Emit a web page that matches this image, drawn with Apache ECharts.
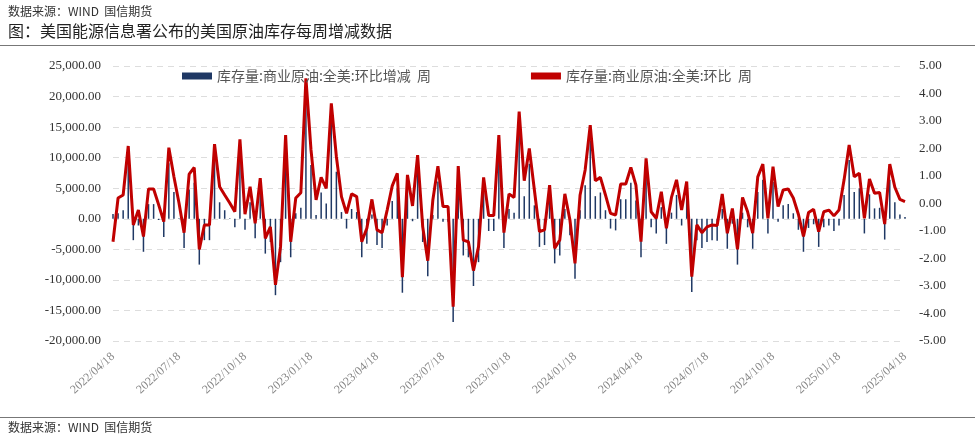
<!DOCTYPE html>
<html><head><meta charset="utf-8">
<script src="https://cdn.jsdelivr.net/npm/echarts@6/dist/echarts.min.js"></script>
<style>html,body{margin:0;padding:0;background:#fff}#c{width:975px;height:440px}</style>
</head><body><div id="c"></div>
<script>
const tickLabels = ['2022/04/18','2022/07/18','2022/10/18','2023/01/18','2023/04/18','2023/07/18','2023/10/18','2024/01/18','2024/04/18','2024/07/18','2024/10/18','2025/01/18','2025/04/18'];
const barValues = [800,900,1400,9400,-3500,-1100,-5400,2400,2400,-200,-3000,9100,4400,100,-4800,4800,5900,-7500,-3500,-3500,
9700,2700,1400,100,-1400,10500,-1800,2700,-3200,4100,-5700,-3800,-12500,-7100,11200,-6300,900,1800,20500,8800,
600,4300,2500,16400,7700,1100,-1600,1600,1100,-6300,-4100,700,-4300,-4800,-1100,2900,5000,-12100,4700,-400,
7900,-3800,-9400,600,6100,-500,-500,-16900,6100,-6000,-6300,-11000,-7100,4300,-2000,-2000,11200,-4800,1600,1000,
15000,3700,9000,2200,-4600,-4300,3000,-7300,-6000,1600,-2700,-9800,1400,5500,12800,3700,4300,1400,-1600,-1900,
3200,3200,5900,3000,-6300,7400,-1400,-2400,1900,-4100,1000,3900,-1100,3600,-12000,-3500,-4800,-3800,-3500,-3600,
1600,-4900,-800,-7500,1000,-1400,-4900,4400,6400,-2400,6000,-500,2200,2400,900,-1800,-5400,-1500,-900,-4600,
-1400,-1100,-2000,-1100,3900,9600,4400,5000,-2400,4000,1700,1800,-3400,6400,2700,700,300];
const lineValues = [-1.39,0.2,0.31,2.09,-0.78,-0.24,-1.2,0.53,0.53,-0.05,-0.66,2.03,0.97,0.02,-1.06,1.07,1.31,-1.67,-0.78,-0.78,
2.16,0.61,0.31,0.02,-0.3,2.33,-0.39,0.61,-0.72,0.92,-1.27,-0.85,-2.96,-1.57,2.49,-1.39,0.2,0.39,4.55,1.95,
0.13,0.95,0.55,3.64,1.7,0.25,-0.36,0.35,0.25,-1.39,-0.9,0.15,-0.96,-1.06,-0.24,0.64,1.1,-2.68,1.04,-0.09,
1.76,-0.84,-2.08,0.13,1.36,-0.11,-0.11,-3.75,1.36,-1.33,-1.39,-2.44,-1.57,0.95,-0.44,-0.44,2.49,-1.06,0.35,0.22,
3.34,0.83,2.0,0.49,-1.02,-0.96,0.67,-1.63,-1.33,0.35,-0.6,-2.18,0.31,1.22,2.85,0.83,0.95,0.31,-0.36,-0.42,
0.71,0.71,1.31,0.67,-1.39,1.64,-0.3,-0.54,0.43,-0.9,0.22,0.86,-0.24,0.8,-2.66,-0.78,-1.06,-0.85,-0.78,-0.8,
0.35,-1.08,-0.18,-1.67,0.22,-0.3,-1.08,0.97,1.43,-0.54,1.34,-0.11,0.49,0.53,0.2,-0.39,-1.2,-0.33,-0.21,-1.02,
-0.3,-0.24,-0.45,-0.24,0.86,2.13,0.97,1.1,-0.54,0.89,0.37,0.4,-0.75,1.43,0.59,0.15,0.07];
const categories = barValues.map((_, i) => i);
const barName = '库存量:商业原油:全美:环比增减  周';
const lineName = '库存量:商业原油:全美:环比  周';
const F = '"Liberation Serif","Noto Sans CJK SC",serif';
const chart = echarts.init(document.getElementById('c'));
chart.setOption({
  animation:false,
  textStyle:{fontFamily:F},
  grid:{left:113,right:70,top:66,bottom:99},
  legend:{top:64,left:177,itemGap:100,itemWidth:30,itemHeight:7,
    textStyle:{fontFamily:'"Noto Sans CJK SC"',fontSize:14,color:'#555'},
    data:[{name:barName,icon:'rect'},{name:lineName,icon:'rect'}]},
  xAxis:{type:'category',data:categories,boundaryGap:false,
    axisLine:{show:false},axisTick:{show:false},
    axisLabel:{rotate:42,color:'#888',fontSize:12,margin:14,
      interval:(i)=>i%13===0,
      formatter:(v)=>tickLabels[v/13]||''}},
  yAxis:[{type:'value',min:-20000,max:25000,interval:5000,
    axisLine:{show:false},axisTick:{show:false},
    splitLine:{lineStyle:{type:[6,5],color:'#ddd'}},
    axisLabel:{color:'#333',fontSize:13,margin:12,
      formatter:(v)=>v.toLocaleString('en-US',{minimumFractionDigits:2,maximumFractionDigits:2})}},
   {type:'value',min:-5,max:5,interval:1,
    axisLine:{show:false},axisTick:{show:false},splitLine:{show:false},
    axisLabel:{color:'#333',fontSize:13,margin:14,formatter:(v)=>v.toFixed(2)}}],
  series:[
    {name:barName,type:'bar',data:barValues,barWidth:1.5,itemStyle:{color:'#1F3864'}},
    {name:lineName,type:'line',yAxisIndex:1,data:lineValues,symbol:'none',
      lineStyle:{color:'#C00000',width:3},itemStyle:{color:'#C00000'}}
  ],
  graphic:[
    {type:'text',left:8,top:5,style:{text:'数据来源：WIND  国信期货',font:'12px "Noto Sans CJK SC"',fill:'#333'}},
    {type:'text',left:8,top:23,style:{text:'图：美国能源信息署公布的美国原油库存每周增减数据',font:'16px "Noto Sans CJK SC"',fill:'#222'}},
    {type:'rect',shape:{x:0,y:45,width:975,height:1},style:{fill:'#777'}},
    {type:'rect',shape:{x:0,y:417,width:975,height:1},style:{fill:'#777'}},
    {type:'text',left:8,top:421,style:{text:'数据来源：WIND  国信期货',font:'12px "Noto Sans CJK SC"',fill:'#333'}}
  ]
});
</script></body></html>
